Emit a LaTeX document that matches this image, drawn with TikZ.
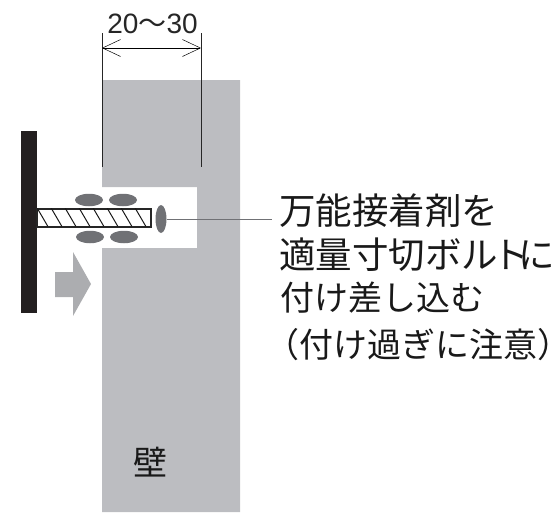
\documentclass[tikz,border=0pt]{standalone}
\usepackage{fontspec}
\setmainfont{Liberation Sans}
\newfontfamily\cjk{Noto Sans CJK JP}
\newfontfamily\cjkhalf[RawFeature=+halt]{Noto Sans CJK JP}
\usetikzlibrary{shapes.geometric, arrows.meta}
\definecolor{wallgray}{RGB}{188,189,193}
\definecolor{gluegray}{RGB}{112,113,117}
\definecolor{pushgray}{RGB}{172,173,176}
\definecolor{platedark}{RGB}{35,31,32}
\tikzstyle{glue} = [ellipse, inner sep=0pt, fill=gluegray, minimum width=28pt, minimum height=12.5pt]
\tikzstyle{note} = [anchor=west, inner sep=0pt, text=black!90, font=\fontsize{36.5}{36.5}\selectfont\cjk]
\tikzstyle{notesmall} = [note, font=\fontsize{34}{34}\selectfont\cjk]
\tikzstyle{dimline} = [line width=0.8pt, draw=black!85]
\tikzstyle{dimarrow} = [line width=0.8pt, {Straight Barb[length=18pt,width=17pt,line width=0.5pt]}-{Straight Barb[length=18pt,width=17pt,line width=0.5pt]}]

\begin{document}
\begin{tikzpicture}[x=1pt,y=-1pt]
        \useasboundingbox (0,0) rectangle (557,512);
        % wall with the hole
        \fill [wallgray] (102,80) -- (240,80) -- (240,512) -- (102,512) -- (102,248) -- (197,248) -- (197,187) -- (102,187) -- cycle;
        % plate and bolt
        \fill [platedark] (21,131) rectangle (37,313);
        \node (bolt) [draw=black!85, line width=1.4pt, fill=white, inner sep=0pt, minimum width=114pt, minimum height=18pt] at (94,218) {};
        \foreach \x in {0,...,7} {
            \draw [line width=1pt, draw=black!90] (bolt.north west) ++(\x*14+1,0) -- ++(10.5,18);
        }
        % glue
        \node (glue1) [glue] at (89,200) {};
        \node (glue2) [glue] at (123,200) {};
        \node (glue3) [glue] at (90,237) {};
        \node (glue4) [glue] at (124,237) {};
        \node (glue5) [glue, minimum width=11pt, minimum height=28pt] at (161,219) {};
        % push direction
        \fill [pushgray] (55,272) -- (73,272) -- (73,252) -- (91,284) -- (73,316) -- (73,297) -- (55,297) -- cycle;
        % dimension
        \coordinate (dimtl) at (102,33);
        \coordinate (dimbl) at (102,167);
        \coordinate (dimtr) at (201,33);
        \coordinate (dimbr) at (201,167);
        \coordinate (arrl) at (102,48);
        \coordinate (arrr) at (201,48);
        \draw [dimline] (dimtl) -- (dimbl);
        \draw [dimline] (dimtr) -- (dimbr);
        \draw [dimarrow] (arrl) -- (arrr);
        \node (dimtext) [inner sep=0pt, text=black!85, font=\fontsize{28}{28}\selectfont] at (152.5,24) {20{\cjk ～}30};
        % notes
        \node (note1) [note] at (279,211) {万能接着剤を};
        \node (note2) [note] at (279,254.5) {適量寸切ボル\kern-6ptト\kern-10ptに\kern-6pt};
        \node (note3) [notesmall] at (280,297.5) {付け差し込む};
        \node (note4) [notesmall] at (282,345) {{\cjkhalf （}付け過ぎに注意{\cjkhalf ）}};
        \node (wall) [inner sep=0pt, text=black!90, font=\fontsize{34}{34}\selectfont\cjk] at (150,462) {壁};
        \coordinate (leader) at (272,219);
        \draw [line width=1pt, draw=gluegray] (glue5) -- (leader);
    \end{tikzpicture}
\end{document}
